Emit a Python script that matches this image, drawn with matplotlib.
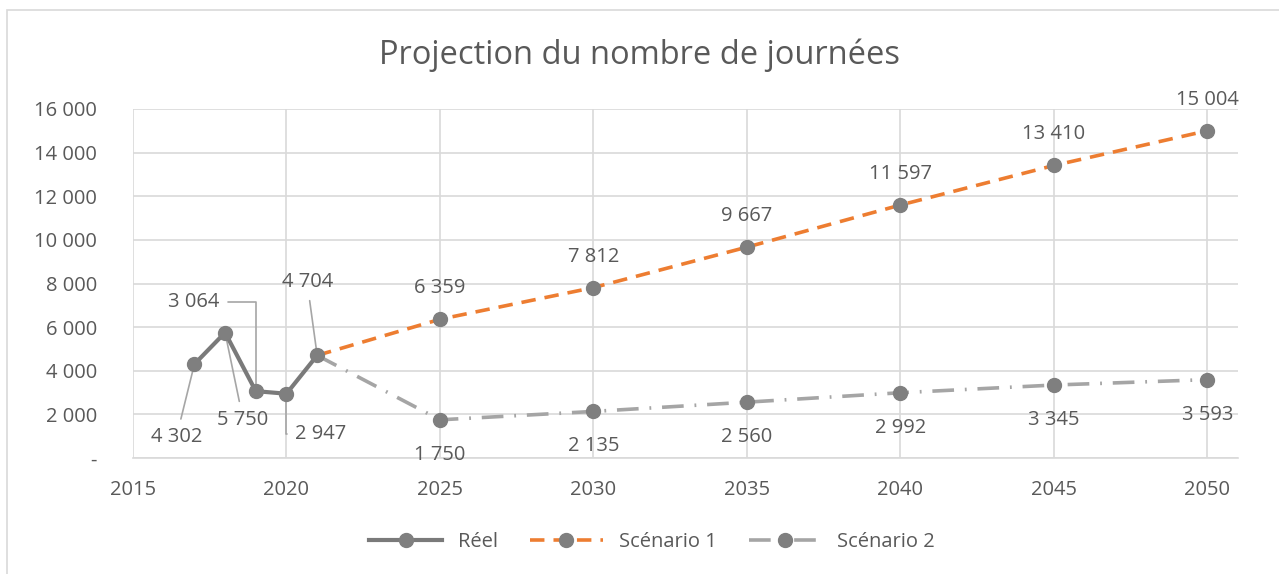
import matplotlib.pyplot as plt
from matplotlib.patches import Rectangle

plt.rcParams['font.family'] = ['Open Sans', 'DejaVu Sans']

# Data
years_reel = [2017, 2018, 2019, 2020, 2021]
reel = [4302, 5750, 3064, 2947, 4704]
years_proj = [2021, 2025, 2030, 2035, 2040, 2045, 2050]
scenario1 = [4704, 6359, 7812, 9667, 11597, 13410, 15004]
scenario2 = [4704, 1750, 2135, 2560, 2992, 3345, 3593]
x_ticks = [2015, 2020, 2025, 2030, 2035, 2040, 2045, 2050]
y_ticks = [0, 2000, 4000, 6000, 8000, 10000, 12000, 14000, 16000]

text_col = '#595959'
grid_col = '#d9d9d9'
marker_col = '#7f7f7f'


def fmt(v):
    if v == 0:
        return '-'
    return f'{v:,}'.replace(',', ' ')


fig = plt.figure(figsize=(12.79, 5.74), dpi=100)
ax = fig.add_axes([133 / 1279, 116 / 574, 1105 / 1279, 349 / 574])

# chart border
fig.patches.append(Rectangle((7 / 1279, -0.01), 1.02, (564 / 574) + 0.01, transform=fig.transFigure,
                             fill=False, edgecolor=grid_col, lw=1.2))

ax.plot(years_proj, scenario1, color='#ed7d31', lw=2.6, ls=(0, (4, 2.5)),
        marker='o', markevery=list(range(1, len(years_proj))), ms=10,
        mfc=marker_col, mec=marker_col, label='Scénario 1', zorder=3)
ax.plot(years_proj, scenario2, color='#a5a5a5', lw=2.6, ls=(0, (6, 3, 0.5, 3)),
        marker='o', markevery=list(range(1, len(years_proj))), ms=10,
        mfc=marker_col, mec=marker_col, label='Scénario 2', zorder=3)
ax.plot(years_reel, reel, color='#7a7a7a', lw=3, marker='o', ms=10,
        mfc=marker_col, mec=marker_col, label='Réel', zorder=4)

# labels for the projections
for x, v in zip(years_proj[1:], scenario1[1:]):
    ax.annotate(fmt(v), (x, v), xytext=(0, 31), textcoords='offset pixels',
                ha='center', va='center', fontsize=14.5, color=text_col)
for x, v in zip(years_proj[1:], scenario2[1:]):
    ax.annotate(fmt(v), (x, v), xytext=(0, -35), textcoords='offset pixels',
                ha='center', va='center', fontsize=14.5, color=text_col)

# labels for the real values with leader lines
offsets = [(-18, -73), (18, -87), (-62, 89), (34, -40), (-10, 73)]
conns = ['arc3', 'arc3', 'angle,angleA=0,angleB=90,rad=0',
         'angle,angleA=0,angleB=90,rad=0', 'arc3']
for x, v, off, cs in zip(years_reel, reel, offsets, conns):
    ax.annotate(fmt(v), (x, v), xytext=off, textcoords='offset pixels',
                ha='center', va='center', fontsize=14.5, color=text_col,
                arrowprops=dict(arrowstyle='-', color='#a6a6a6', lw=1.2,
                                connectionstyle=cs, shrinkA=4, shrinkB=3))

ax.set_xlim(2015, 2051)
ax.set_ylim(0, 16000)
ax.set_xticks(x_ticks)
ax.set_yticks(y_ticks)
ax.set_yticklabels([fmt(v) for v in y_ticks])
ax.tick_params(length=0, labelsize=14.5, colors=text_col)
ax.tick_params(axis='y', pad=26)
ax.tick_params(axis='x', pad=16)
ax.grid(True, color=grid_col, lw=1.2)
ax.set_axisbelow(True)
for side in ['top', 'right', 'left']:
    ax.spines[side].set_visible(False)
ax.spines['bottom'].set_color(grid_col)
ax.spines['bottom'].set_linewidth(1.2)

fig.text(0.5, 0.904, 'Projection du nombre de journées', ha='center', va='center',
         fontsize=23.5, color=text_col)

handles, labels = ax.get_legend_handles_labels()
order = [2, 0, 1]
fig.legend([handles[i] for i in order], [labels[i] for i in order],
           loc='center', bbox_to_anchor=(0.51, 0.055), ncol=3, frameon=False,
           fontsize=14.5, labelcolor=text_col, columnspacing=1.6,
           handlelength=3.6, handletextpad=0.8)

fig.savefig('out.png', dpi=100)
